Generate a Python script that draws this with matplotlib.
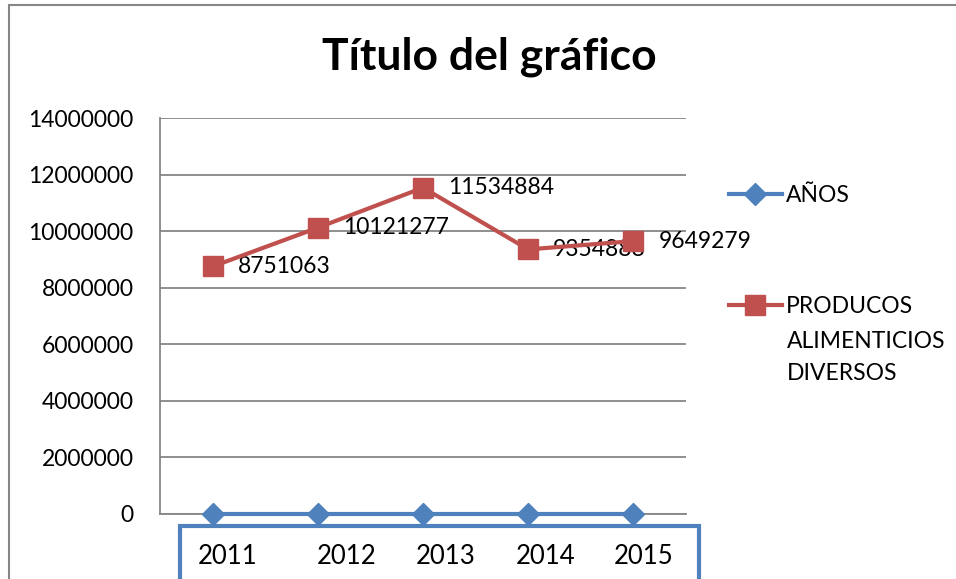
import matplotlib
matplotlib.use('Agg')
import matplotlib.pyplot as plt
from matplotlib.patches import Rectangle
from matplotlib.lines import Line2D

# datos
anios = ['2011', '2012', '2013', '2014', '2015']
serie_anios = [0, 0, 0, 0, 0]
serie_productos = [8751063, 10121277, 11534884, 9354888, 9649279]
y_ticks = [0, 2000000, 4000000, 6000000, 8000000, 10000000, 12000000, 14000000]

AZUL = '#4F81BD'
ROJO = '#C0504D'
GRIS = '#868686'
plt.rcParams['font.family'] = ['Lato', 'DejaVu Sans']

W, H = 956, 579
fig = plt.figure(figsize=(W / 100, H / 100), dpi=100)

# borde exterior del grafico
fig.patches.append(Rectangle((9 / W, -0.1), 1.2, 1.1 - 5 / H, transform=fig.transFigure,
                             fill=False, edgecolor=GRIS, lw=1.5))

ax = fig.add_axes([160 / W, 1 - 514 / H, (686 - 160) / W, (514 - 118) / H])
x = list(range(len(anios)))

ax.plot(x, serie_anios, color=AZUL, lw=3, marker='D', ms=11, label='AÑOS', clip_on=False, zorder=4)
ax.plot(x, serie_productos, color=ROJO, lw=3, marker='s', ms=14, label='PRODUCOS', clip_on=False, zorder=4)

for xi, v in zip(x, serie_productos):
    ax.annotate(str(v), (xi, v), xytext=(18, 0), textcoords='offset points',
                ha='left', va='center', fontsize=16.5)

ax.set_xlim(-0.5, len(anios) - 0.5)
ax.set_ylim(0, 14000000)
ax.set_yticks(y_ticks)
ax.set_yticklabels([str(t) for t in y_ticks])
ax.set_xticks(x)
ax.set_xticklabels([])
ax.tick_params(axis='y', length=0, pad=19, labelsize=16.5)
ax.tick_params(axis='x', length=0)
ax.grid(axis='y', color=GRIS, lw=1.3)
ax.set_axisbelow(True)
for s in ['top', 'right']:
    ax.spines[s].set_visible(False)
for s in ['left', 'bottom']:
    ax.spines[s].set_color(GRIS)
    ax.spines[s].set_linewidth(1.3)

# cuadro de texto azul con los años (puesto a mano sobre el eje)
fig.patches.append(Rectangle((180 / W, -0.1), (699 - 180) / W, 0.1 + (H - 526) / H,
                             transform=fig.transFigure, fill=False, edgecolor=AZUL, lw=3))
pos_cuadro = [228, 347, 446, 546, 644]
for px, a in zip(pos_cuadro, anios):
    fig.text(px / W, 1 - 557 / H, a, ha='center', va='center', fontsize=18.5)

fig.text(489 / W, 1 - 57 / H, 'Título del gráfico', ha='center', va='center',
         fontsize=32, fontweight='bold')

# leyenda
handles = [Line2D([], [], color=AZUL, lw=3, marker='D', ms=11),
           Line2D([], [], color=ROJO, lw=3, marker='s', ms=14)]
leg = ax.legend(handles, ['AÑOS', 'PRODUCOS'], loc='center left', frameon=False,
                bbox_to_anchor=(729 / W, 1 - 251 / H), bbox_transform=fig.transFigure,
                fontsize=16.5, handlelength=2.3, handletextpad=0.2, labelspacing=3.9,
                borderpad=0, borderaxespad=0)
fig.text(787 / W, 1 - 341 / H, 'ALIMENTICIOS', ha='left', va='center', fontsize=16.5)
fig.text(787 / W, 1 - 374 / H, 'DIVERSOS', ha='left', va='center', fontsize=16.5)

fig.savefig('out.png', dpi=100)
